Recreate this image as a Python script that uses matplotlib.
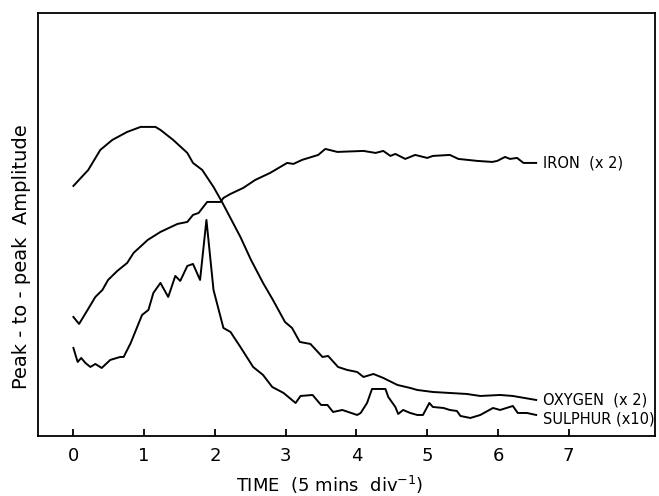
import numpy as np
import matplotlib
matplotlib.use("Agg")
import matplotlib.pyplot as plt

plt.rcParams['font.family'] = ['DejaVu Sans']

# time in units of 5 min divisions, amplitude in arbitrary units
oxygen_t = [0.00, 0.21, 0.38, 0.55, 0.76, 0.95, 1.16, 1.23, 1.41, 1.61, 1.69, 1.82, 1.98, 2.10,
            2.36, 2.51, 2.68, 2.82, 2.99, 3.09, 3.20, 3.35, 3.52, 3.60, 3.74, 3.87, 4.01, 4.10,
            4.24, 4.38, 4.58, 4.76, 4.86, 5.08, 5.32, 5.56, 5.75, 6.03, 6.21, 6.54]
oxygen_a = [250, 266, 286, 296, 304, 309, 309, 306, 296, 283, 273, 266, 249, 234,
            199, 176, 153, 136, 114, 108, 94, 92, 79, 80, 69, 66, 64, 59,
            62, 58, 51, 48, 46, 44, 43, 42, 40, 41, 40, 36]

iron_t = [0.00, 0.08, 0.20, 0.31, 0.41, 0.49, 0.62, 0.76, 0.85, 1.05, 1.23, 1.47, 1.61, 1.69,
          1.77, 1.89, 2.08, 2.12, 2.22, 2.40, 2.57, 2.78, 3.02, 3.11, 3.23, 3.46, 3.56, 3.73,
          4.10, 4.27, 4.38, 4.48, 4.55, 4.69, 4.83, 5.00, 5.08, 5.32, 5.44, 5.71, 5.92, 5.99,
          6.10, 6.17, 6.27, 6.36, 6.54]
iron_a = [119, 112, 126, 139, 146, 156, 165, 173, 183, 196, 204, 212, 214, 221,
          223, 234, 234, 238, 242, 248, 256, 263, 273, 272, 276, 281, 287, 284,
          285, 283, 285, 280, 282, 277, 281, 278, 280, 281, 277, 275, 274, 275,
          279, 277, 278, 273, 273]

sulphur_t = [0.00, 0.06, 0.11, 0.17, 0.24, 0.31, 0.40, 0.52, 0.66, 0.71, 0.81, 0.97, 1.06, 1.13,
             1.23, 1.34, 1.44, 1.51, 1.61, 1.69, 1.79, 1.88, 1.94, 1.98, 2.12, 2.22, 2.36, 2.54,
             2.68, 2.81, 2.97, 3.14, 3.21, 3.38, 3.50, 3.59, 3.67, 3.80, 4.01, 4.06, 4.15, 4.22,
             4.41, 4.45, 4.55, 4.59, 4.66, 4.76, 4.86, 4.94, 5.03, 5.08, 5.23, 5.32, 5.42, 5.47,
             5.61, 5.75, 5.93, 6.03, 6.21, 6.28, 6.41, 6.54]
sulphur_a = [88, 74, 78, 73, 69, 72, 68, 76, 79, 79, 93, 121, 126, 143,
             153, 139, 160, 155, 170, 172, 156, 216, 174, 146, 108, 104, 89, 69,
             61, 49, 43, 33, 40, 41, 31, 31, 24, 26, 21, 23, 33, 47,
             47, 39, 29, 22, 26, 23, 21, 21, 33, 29, 28, 26, 25, 20,
             18, 21, 28, 26, 30, 23, 23, 21]

labels = ["IRON  (x 2)", "OXYGEN  (x 2)", "SULPHUR (x10)"]
xticks = [0, 1, 2, 3, 4, 5, 6, 7]

fig = plt.figure(figsize=(6.59, 4.96), dpi=100)
ax = fig.add_axes([0.0577, 0.121, 0.9363, 0.853])

for t, a in [(iron_t, iron_a), (oxygen_t, oxygen_a), (sulphur_t, sulphur_a)]:
    ax.plot(t, a, color='black', lw=1.4)

ax.text(6.64, iron_a[-1], labels[0], fontsize=10.5, va='center', ha='left')
ax.text(6.64, oxygen_a[-1], labels[1], fontsize=10.5, va='center', ha='left')
ax.text(6.64, 17, labels[2], fontsize=10.5, va='center', ha='left')

ax.set_xlim(-0.5, 8.22)
ax.set_ylim(0, 423)
ax.set_xticks(xticks)
ax.set_yticks([])
ax.tick_params(axis='x', direction='in', length=5, width=1.3, labelsize=13, pad=8)
for s in ax.spines.values():
    s.set_linewidth(1.3)

fig.text(330 / 659, 1 - 485 / 496, r"TIME  (5 mins  div$^{-1}$)", fontsize=13,
         ha='center', va='center')
fig.text(22 / 659, 1 - 257 / 496, "Peak - to - peak  Amplitude", fontsize=14,
         rotation=90, ha='center', va='center')

fig.savefig("out.png", dpi=100)
